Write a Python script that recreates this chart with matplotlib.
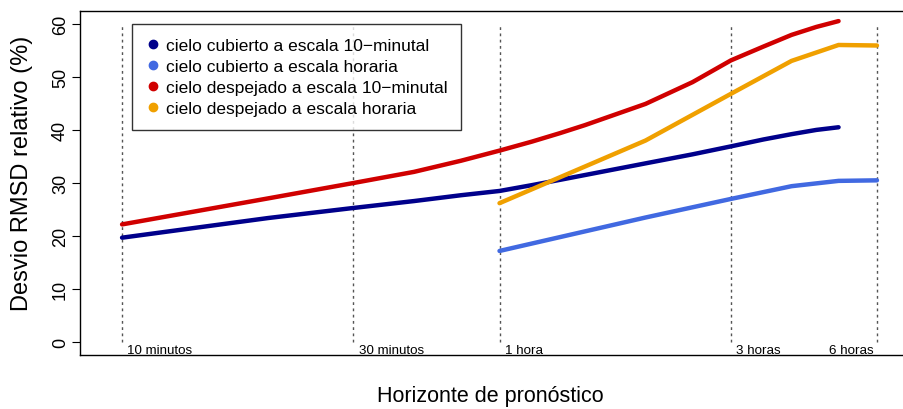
import numpy as np
import matplotlib.pyplot as plt
from matplotlib.lines import Line2D

# horizontes (minutos)
t_10min = [10, 20, 30, 40, 50, 60, 70, 80, 90, 120, 150, 180, 210, 240, 270, 300]
t_hora = [60, 120, 180, 240, 300, 360]

# desvio RMSD relativo (%)
cubierto_10min = [19.7, 23.4, 25.3, 26.6, 27.7, 28.5, 29.6, 30.6, 31.5, 33.7, 35.4, 36.9, 38.2, 39.2, 40.0, 40.5]
despejado_10min = [22.2, 27.1, 30.0, 32.1, 34.2, 36.1, 37.8, 39.4, 40.9, 44.9, 49.0, 53.1, 55.7, 57.9, 59.4, 60.5]
cubierto_hora = [17.2, 23.5, 27.0, 29.4, 30.4, 30.5]
despejado_hora = [26.2, 38.0, 46.8, 53.0, 56.0, 55.9]

ref_t = [10, 30, 60, 180, 360]
ref_lab = ['10 minutos', '30 minutos', '1 hora', '3 horas', '6 horas']

series = [
    (t_10min, cubierto_10min, '#00008B', 'cielo cubierto a escala 10\u2212minutal'),
    (t_hora, cubierto_hora, '#4169E1', 'cielo cubierto a escala horaria'),
    (t_10min, despejado_10min, '#D00000', 'cielo despejado a escala 10\u2212minutal'),
    (t_hora, despejado_hora, '#F0A000', 'cielo despejado a escala horaria'),
]

plt.rcParams['font.family'] = ['Liberation Sans', 'DejaVu Sans']

fig = plt.figure(figsize=(9.04, 4.10), dpi=100)
ax = fig.add_axes([80 / 904, 1 - 356 / 410, 824 / 904, 344 / 410])

for t in ref_t:
    ax.plot([t, t], [0, 60], color='#555555', lw=1, ls=(0, (2, 2.5)), zorder=1)

for x, y, c, lab in series:
    ax.plot(x, y, color=c, lw=3.2, solid_capstyle='round', zorder=3)

for t, lab in zip(ref_t, ref_lab):
    if t == 360:
        ax.text(t * 0.985, -2.0, lab, ha='right', va='baseline', fontsize=9.6)
    else:
        ax.text(t * 1.025, -2.0, lab, ha='left', va='baseline', fontsize=9.6)

ax.set_xscale('log')
ax.set_xlim(8.19, 409.3)
ax.set_ylim(-2.4, 62.4)
ax.set_xticks([])
ax.minorticks_off()
ax.set_yticks(range(0, 61, 10))
ax.tick_params(axis='y', length=6, width=0.8, labelsize=13, pad=2)
for lbl in ax.get_yticklabels():
    lbl.set_rotation(90)
    lbl.set_va('center')
ax.spines['right'].set_visible(False)
for s in ['left', 'top', 'bottom']:
    ax.spines[s].set_linewidth(1.0)

fig.text(22 / 904, 1 - 173 / 410, 'Desvio RMSD relativo (%)', fontsize=17,
         rotation=90, ha='center', va='center')
fig.text(490 / 904, 1 - 397 / 410, 'Horizonte de pronóstico', fontsize=15.5,
         ha='center', va='center')

handles = [Line2D([], [], marker='o', ls='none', color=c, markersize=6) for _, _, c, _ in series]
leg = ax.legend(handles, [s[3] for s in series], loc='upper left',
                bbox_to_anchor=(52 / 824, 331 / 344), borderaxespad=0,
                fontsize=12.5, frameon=True, fancybox=False, edgecolor='black',
                handlelength=0.8, handletextpad=0.35, labelspacing=0.33,
                borderpad=0.8)
leg.get_frame().set_linewidth(1.0)
leg.set_zorder(5)

fig.savefig('out.png', dpi=100)
